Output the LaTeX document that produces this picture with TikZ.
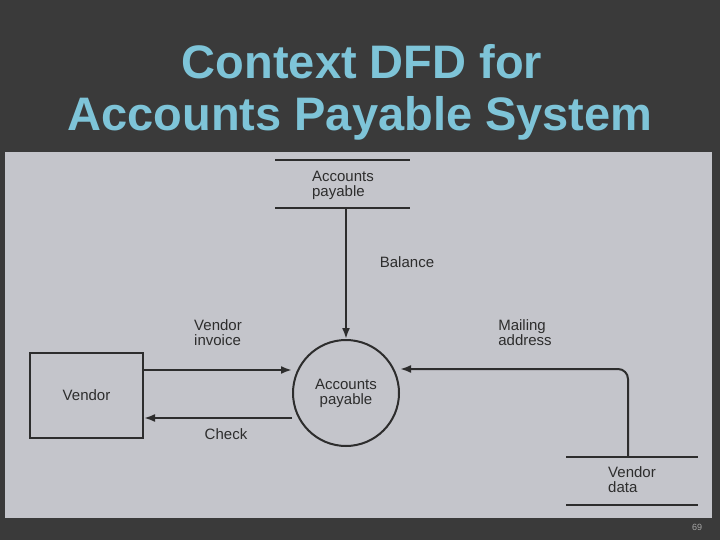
\documentclass[tikz,border=0pt]{standalone}
\usepackage{fontspec}
\setmainfont{Liberation Sans}
\usetikzlibrary{positioning,arrows.meta}
\definecolor{slidebg}{RGB}{58,58,58}
\definecolor{photo}{RGB}{196,197,203}
\definecolor{titleblue}{RGB}{126,196,216}
\definecolor{ink}{RGB}{45,45,45}
\tikzset{
  lbl/.style={font=\fontsize{15}{15}\selectfont, text=ink, align=left, inner sep=0pt},
  flow/.style={draw=ink, line width=2pt, -{Latex[length=11pt,width=8pt]}},
  storeline/.style={draw=ink, line width=2pt},
  titletext/.style={font=\bfseries\fontsize{47}{47}\selectfont, inner sep=0pt, text=titleblue}
}
\begin{document}
\begin{tikzpicture}[x=1pt,y=-1pt]
    % Slide background and scanned figure
    \fill[slidebg] (0,0) rectangle (720,540);
    \useasboundingbox (0,0) rectangle (720,540);
    \fill[photo] (5,152) rectangle (712,518);

    % Title
    \node[titletext] (title1) at (362,62) {Context DFD for};
    \node[titletext] (title2) at (360,118) {Accounts Payable System};

    % Processes, entities and stores
    \node[circle, draw=ink, line width=2pt, minimum size=106pt, lbl, align=center] (ap) at (346,393) {Accounts\\payable};
    \node[draw=ink, line width=2pt, minimum width=113pt, minimum height=85pt, lbl] (vendor) at (86.5,395.5) {Vendor};
    \node[lbl] (apstore) at (343,185) {Accounts\\payable};
    \draw[storeline] (275,160) -- (410,160);
    \draw[storeline] (275,208) -- (410,208);
    \node[lbl] (vdata) at (632,480) {Vendor\\data};
    \draw[storeline] (566,457) -- (698,457);
    \draw[storeline] (566,505) -- (698,505);

    % Data flows
    \coordinate (storebot) at (346,208);
    \coordinate (vdtop) at (628,457);
    \draw[flow] (storebot) -- (ap.north);
    \draw[flow] (vendor.east |- 0,370) -- (ap.west |- 0,370);
    \draw[flow] (ap.west |- 0,418) -- (vendor.east |- 0,418);
    \draw[flow, rounded corners=10pt] (vdtop) -- (628,369) -- (ap.east |- 0,369);

    % Flow labels
    \node[lbl] (balance) at (407,262) {Balance};
    \node[lbl] (invoice) at (218,333) {Vendor\\invoice};
    \node[lbl] (check) at (226,434) {Check};
    \node[lbl] (mailing) at (525,333) {Mailing\\address};

    % Page number
    \node[font=\fontsize{9}{9}\selectfont, text=gray!70] (page) at (697,527) {69};
\end{tikzpicture}
\end{document}
